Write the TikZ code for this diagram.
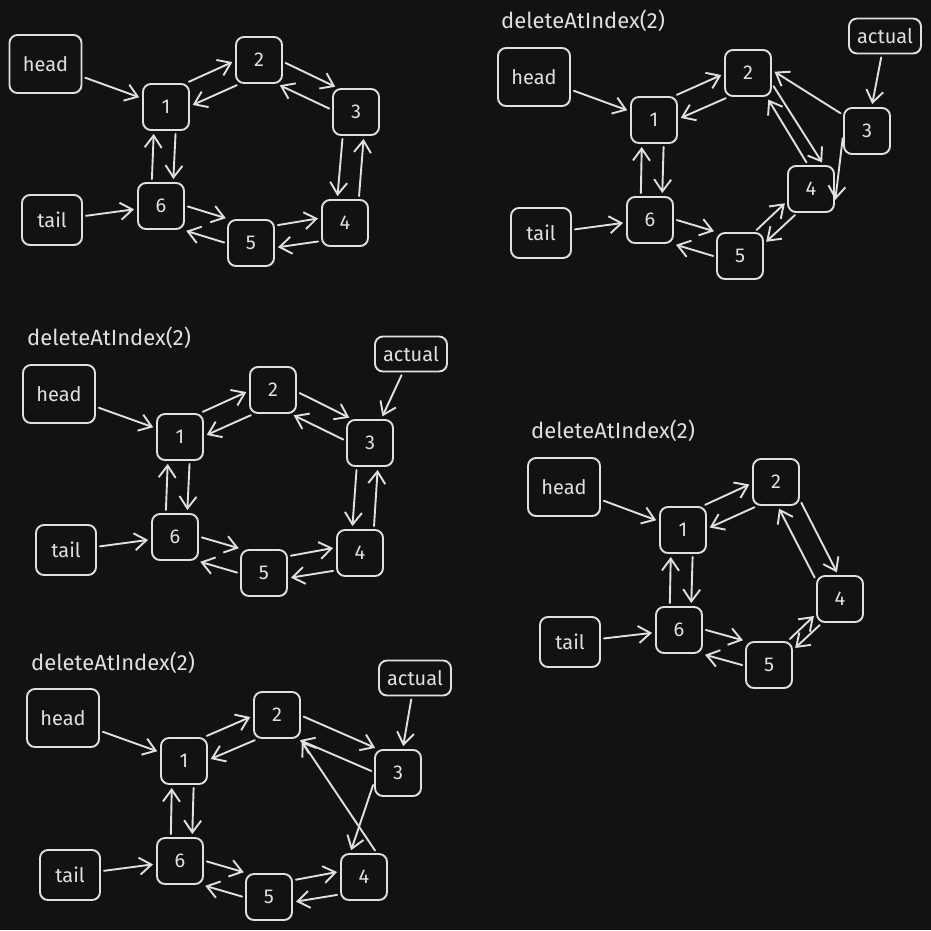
\documentclass[tikz,border=0pt]{standalone}
\usepackage{fontspec}
\setmainfont{Fira Sans}
\usetikzlibrary{arrows.meta}
\definecolor{bgc}{HTML}{121212}
\definecolor{fgc}{HTML}{E0E0E0}
\newcommand\arrlink[3][24]{%
  \pgfpointdiff{\pgfpointanchor{#2}{center}}{\pgfpointanchor{#3}{center}}%
  \pgfgetlastxy{\lkdx}{\lkdy}%
  \pgfmathsetmacro\lkang{atan2(\lkdy,\lkdx)}%
  \pgfmathsetmacro\lksa{\lkang+#1}%
  \pgfmathsetmacro\lksb{\lkang+180-#1}%
  \draw[arr] (#2.\lksa) -- (#3.\lksb);%
}
\newcommand\pairlink[3][24]{\arrlink[#1]{#2}{#3}\arrlink[#1]{#3}{#2}}
\tikzset{
  box/.style={draw=fgc, line width=1.9pt, rounded corners=8pt, text=fgc,
    font=\fontsize{20}{23}\selectfont, inner sep=0pt},
  num/.style={box, minimum width=46pt, minimum height=46pt},
  headbox/.style={box, minimum width=72pt, minimum height=58pt},
  tailbox/.style={box, minimum width=60pt, minimum height=50pt},
  actbox/.style={box, minimum width=72pt, minimum height=35pt},
  ttl/.style={text=fgc, font=\fontsize{22}{25}\selectfont, anchor=west, inner sep=0pt},
  arr/.style={draw=fgc, line width=1.9pt, line cap=round,
    -{Straight Barb[length=12pt,width=17pt]}, shorten >=3pt, shorten <=3pt},
}
\begin{document}
\begin{tikzpicture}[x=1pt,y=-1pt]
\fill[bgc] (0,0) rectangle (931,930);
\useasboundingbox (0,0) rectangle (931,930);

% ---------- panel 1 ----------
\node[headbox] (ah) at (45.5,64) {head};
\node[tailbox] (at) at (52,220) {tail};
\node[num] (a1) at (166,107) {1};
\node[num] (a2) at (259,60) {2};
\node[num] (a3) at (356,112) {3};
\node[num] (a4) at (345,223) {4};
\node[num] (a5) at (251,243) {5};
\node[num] (a6) at (161,206) {6};
\arrlink[0]{ah}{a1}
\arrlink[0]{at}{a6}
\pairlink{a1}{a2}
\pairlink{a2}{a3}
\pairlink[-24]{a3}{a4}
\pairlink{a4}{a5}
\pairlink{a5}{a6}
\pairlink{a6}{a1}

% ---------- panel 2 ----------
\node[ttl] (btitle) at (501,21) {deleteAtIndex(2)};
\node[headbox] (bh) at (534,77) {head};
\node[tailbox] (bt) at (541,233) {tail};
\node[actbox] (bact) at (885,36) {actual};
\node[num] (b1) at (654,120) {1};
\node[num] (b2) at (748,73) {2};
\node[num] (b3) at (867,131) {3};
\node[num] (b4) at (811,189) {4};
\node[num] (b5) at (740,256) {5};
\node[num] (b6) at (650,220) {6};
\arrlink[0]{bh}{b1}
\arrlink[0]{bt}{b6}
\arrlink[0]{bact}{b3}
\pairlink{b1}{b2}
\draw[arr] (b2.-24) -- (b4.62);
\draw[arr] (b4.97) -- (b2.-52);
\draw[arr] (b3.146) -- (b2.7);
\draw[arr] (b3.190) -- (b4.-30);
\pairlink[16]{b4}{b5}
\pairlink{b5}{b6}
\pairlink{b6}{b1}

% ---------- panel 3 ----------
\node[ttl] (ctitle) at (27,338) {deleteAtIndex(2)};
\node[headbox] (ch) at (59,394) {head};
\node[tailbox] (ct) at (66,550) {tail};
\node[actbox] (cact) at (411,354) {actual};
\node[num] (c1) at (180,437) {1};
\node[num] (c2) at (273,390) {2};
\node[num] (c3) at (370,443) {3};
\node[num] (c4) at (360,553) {4};
\node[num] (c5) at (264,573) {5};
\node[num] (c6) at (175,537) {6};
\arrlink[0]{ch}{c1}
\arrlink[0]{ct}{c6}
\arrlink[0]{cact}{c3}
\pairlink{c1}{c2}
\pairlink{c2}{c3}
\pairlink[-24]{c3}{c4}
\pairlink{c4}{c5}
\pairlink{c5}{c6}
\pairlink{c6}{c1}

% ---------- panel 4 ----------
\node[ttl] (dtitle) at (531,431) {deleteAtIndex(2)};
\node[headbox] (dh) at (564,487) {head};
\node[tailbox] (dt) at (570,642) {tail};
\node[num] (d1) at (683,530) {1};
\node[num] (d2) at (776,482) {2};
\node[num] (d4) at (840,599) {4};
\node[num] (d5) at (769,665) {5};
\node[num] (d6) at (679,630) {6};
\arrlink[0]{dh}{d1}
\arrlink[0]{dt}{d6}
\pairlink{d1}{d2}
\pairlink{d2}{d4}
\pairlink[10]{d4}{d5}
\pairlink{d5}{d6}
\pairlink{d6}{d1}

% ---------- panel 5 ----------
\node[ttl] (etitle) at (31,663) {deleteAtIndex(2)};
\node[headbox] (eh) at (63,718) {head};
\node[tailbox] (et) at (70,875) {tail};
\node[actbox] (eact) at (415,678) {actual};
\node[num] (e1) at (184,761) {1};
\node[num] (e2) at (277,715) {2};
\node[num] (e3) at (398,773) {3};
\node[num] (e4) at (364,877) {4};
\node[num] (e5) at (269,897) {5};
\node[num] (e6) at (180,861) {6};
\arrlink[0]{eh}{e1}
\arrlink[0]{et}{e6}
\arrlink[0]{eact}{e3}
\pairlink{e1}{e2}
\pairlink{e2}{e3}
\draw[arr] (e3.201) -- (e4.120);
\draw[arr] (e4.62) -- (e2.-46);
\pairlink{e4}{e5}
\pairlink{e5}{e6}
\pairlink{e6}{e1}
\end{tikzpicture}
\end{document}
